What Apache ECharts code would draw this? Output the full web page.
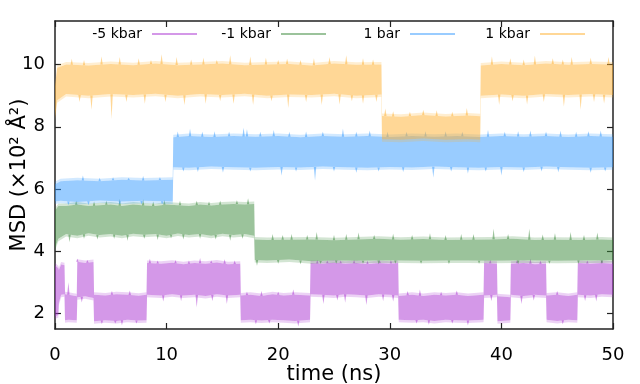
<!DOCTYPE html>
<html>
<head>
<meta charset="utf-8">
<script src="https://cdn.jsdelivr.net/npm/echarts@6/dist/echarts.min.js"></script>
<style>
html, body { margin: 0; padding: 0; background: #fff; }
#chart { width: 640px; height: 384px; }
</style>
</head>
<body>
<div id="chart"></div>
<script>
const seriesNames = ['-5 kbar', '-1 kbar', '1 bar', '1 kbar'];
const xTicks = [0, 10, 20, 30, 40, 50];
const yTicks = [2, 4, 6, 8, 10];

// dense noise of each run, read as [time, lower edge, upper edge]
const bandM5 = [
  [0, 1.9, 3.55], [0.3, 1.95, 3.45], [0.35, 2.35, 3.4], [0.55, 2.6, 3.57], [0.85, 2.62, 3.55],
  [0.9, 1.78, 2.62], [1.2, 1.8, 2.6], [1.95, 1.78, 2.55],
  [2.0, 2.52, 3.66], [2.7, 2.55, 3.62], [3.45, 2.5, 3.65],
  [3.5, 1.75, 2.6], [4.5, 1.78, 2.58], [5.5, 1.76, 2.62], [6.5, 1.8, 2.6], [7.5, 1.77, 2.57], [8.2, 1.78, 2.6],
  [8.25, 2.6, 3.62], [9.5, 2.58, 3.6], [10.5, 2.62, 3.63], [11.5, 2.58, 3.58], [12.5, 2.6, 3.62],
  [13.5, 2.56, 3.6], [14.5, 2.62, 3.64], [15.5, 2.58, 3.58], [16.6, 2.6, 3.6],
  [16.65, 1.78, 2.58], [17.5, 1.8, 2.6], [18.5, 1.77, 2.56], [19.5, 1.8, 2.62], [20.5, 1.78, 2.58],
  [21.5, 1.76, 2.6], [22.85, 1.8, 2.58],
  [22.9, 2.62, 3.62], [24, 2.6, 3.6], [25, 2.58, 3.64], [26, 2.62, 3.6], [27, 2.6, 3.62], [28, 2.58, 3.58],
  [29, 2.62, 3.62], [30, 2.6, 3.6], [30.75, 2.58, 3.62],
  [30.8, 1.8, 2.56], [32, 1.78, 2.6], [33, 1.8, 2.56], [34, 1.76, 2.6], [35, 1.8, 2.58], [36, 1.78, 2.6],
  [37, 1.77, 2.56], [38.4, 1.8, 2.6],
  [38.45, 2.58, 3.62], [39.6, 2.6, 3.6],
  [39.65, 1.75, 2.55], [40.8, 1.78, 2.52],
  [40.85, 2.6, 3.6], [42, 2.56, 3.62], [43, 2.6, 3.58], [44.0, 2.58, 3.6],
  [44.05, 1.8, 2.58], [45, 1.76, 2.6], [46, 1.8, 2.56], [46.8, 1.78, 2.6],
  [46.85, 2.6, 3.62], [48, 2.58, 3.6], [49, 2.62, 3.62], [50, 2.6, 3.6]
];
const bandM1 = [
  [0, 4.1, 5.3], [0.3, 4.4, 5.45], [1, 4.55, 5.45], [2, 4.5, 5.5], [3, 4.58, 5.45], [4, 4.52, 5.48],
  [5, 4.55, 5.5], [6, 4.5, 5.45], [7, 4.56, 5.5], [8, 4.53, 5.47], [9, 4.55, 5.45], [10, 4.5, 5.5],
  [11, 4.57, 5.48], [12, 4.52, 5.45], [13, 4.55, 5.5], [14, 4.5, 5.47], [15, 4.56, 5.5], [16, 4.52, 5.52],
  [17, 4.55, 5.5], [17.85, 4.5, 5.52],
  [17.9, 3.72, 4.38], [19, 3.7, 4.36], [21, 3.73, 4.37], [23, 3.68, 4.38], [25, 3.7, 4.35], [27, 3.69, 4.38],
  [29, 3.7, 4.4], [31, 3.7, 4.37], [33, 3.69, 4.39], [35, 3.7, 4.36], [37, 3.7, 4.37], [39, 3.69, 4.38],
  [41, 3.7, 4.4], [43, 3.7, 4.36], [45, 3.69, 4.37], [47, 3.7, 4.36], [49, 3.7, 4.38], [50, 3.72, 4.36]
];
const bandB1 = [
  [0, 5.6, 6.15], [0.5, 5.62, 6.25], [2, 5.58, 6.28], [4, 5.63, 6.25], [6, 5.6, 6.3], [8, 5.62, 6.27],
  [10.55, 5.6, 6.3],
  [10.6, 6.7, 7.66], [12, 6.68, 7.7], [14, 6.72, 7.67], [16, 6.7, 7.7], [18, 6.68, 7.68], [20, 6.71, 7.7],
  [22, 6.69, 7.66], [24, 6.72, 7.7], [26, 6.7, 7.68], [28, 6.68, 7.7], [30, 6.71, 7.67], [32, 6.69, 7.7],
  [34, 6.72, 7.68], [36, 6.7, 7.7], [38, 6.68, 7.67], [40, 6.71, 7.7], [42, 6.69, 7.68], [44, 6.72, 7.7],
  [46, 6.7, 7.67], [48, 6.68, 7.7], [50, 6.7, 7.68]
];
const bandK1 = [
  [0, 8.3, 9.3], [0.2, 8.85, 9.9], [1, 9.05, 10.0], [3, 9.0, 9.97], [5, 9.05, 10.02], [7, 9.02, 9.98],
  [9, 9.06, 10.03], [11, 9.0, 9.98], [13, 9.05, 10.0], [15, 9.02, 10.03], [17, 9.06, 9.98], [19, 9.0, 10.0],
  [21, 9.04, 10.02], [23, 9.02, 9.97], [25, 9.06, 10.03], [27, 9.0, 9.99], [29.25, 9.04, 10.0],
  [29.3, 7.6, 8.35], [31, 7.58, 8.32], [33, 7.62, 8.38], [35, 7.58, 8.33], [37, 7.6, 8.36], [38.1, 7.58, 8.34],
  [38.15, 9.0, 9.97], [40, 9.04, 10.02], [42, 9.0, 9.98], [44, 9.05, 10.03], [46, 9.02, 9.99],
  [48, 9.05, 10.02], [50, 9.02, 10.0]
];

// single excursions beyond the dense band, read as [time, tip]
const upM5 = [[1.2, 3.0], [2.0, 3.76], [2.9, 3.72], [5.1, 2.72], [6.7, 2.74], [8.5, 3.76], [9.2, 3.7],
  [10.8, 3.72], [12.0, 3.7], [13.0, 3.78], [14.0, 3.7], [15.2, 3.74], [16.1, 3.7], [17.2, 2.7],
  [18.5, 2.72], [20.0, 2.7], [21.35, 2.77], [23.5, 3.72], [24.4, 3.7], [25.6, 3.7], [26.8, 3.72],
  [28.0, 3.7], [29.1, 3.7], [30.1, 3.72], [31.6, 2.72], [32.7, 2.77], [34.6, 2.7], [36.0, 2.74],
  [39.0, 3.72], [41.4, 3.72], [42.6, 3.76], [43.5, 3.7], [45.0, 2.72], [47.7, 3.7], [49.0, 3.72]];
const downM5 = [[2.4, 2.35], [4.2, 1.66], [5.4, 1.68], [6.0, 1.62], [7.3, 1.68], [9.7, 2.38], [11.3, 2.4],
  [12.7, 2.2], [14.1, 2.4], [15.4, 2.3], [18.0, 1.65], [19.2, 1.68], [21.8, 1.58], [24.05, 2.3],
  [25.3, 2.42], [26.0, 2.35], [27.9, 2.27], [29.4, 2.4], [30.3, 2.38], [32.4, 1.68], [33.5, 1.64],
  [35.6, 1.68], [37.0, 1.62], [39.1, 2.4], [41.8, 2.3], [42.9, 2.42], [45.5, 1.65], [47.5, 2.4], [48.5, 2.38]];
const upM1 = [[1.9, 5.62], [3.5, 5.6], [4.6, 5.62], [5.8, 5.69], [7.9, 5.67], [8.8, 5.6], [9.8, 5.65],
  [11.2, 5.62], [12.7, 5.62], [13.8, 5.6], [14.8, 5.62], [16.3, 5.64], [17.3, 5.7], [19.5, 4.55],
  [20.4, 4.52], [21.2, 4.55], [22.6, 4.52], [23.45, 4.62], [25.0, 4.52], [26.1, 4.55], [27.2, 4.6],
  [28.6, 4.52], [30.3, 4.56], [32.0, 4.52], [33.6, 4.58], [35.0, 4.52], [36.4, 4.55], [37.5, 4.55],
  [39.3, 4.72], [40.6, 4.55], [42.5, 4.72], [43.7, 4.54], [44.8, 4.58], [46.2, 4.62], [47.4, 4.52], [48.6, 4.6]];
const downM1 = [[1.3, 4.29], [2.6, 4.4], [3.8, 4.38], [5.3, 4.4], [6.5, 4.34], [8.0, 4.4], [9.2, 4.36],
  [10.4, 4.42], [11.5, 4.38], [13.0, 4.4], [14.4, 4.38], [15.7, 4.34], [16.8, 4.4], [18.1, 3.53],
  [20.0, 3.6], [22.0, 3.58], [23.8, 3.6], [25.2, 3.6], [27.6, 3.6], [29.0, 3.58], [30.5, 3.6],
  [32.8, 3.6], [35.3, 3.58], [38.0, 3.6], [41.5, 3.58], [44.3, 3.6], [46.9, 3.6], [49.0, 3.6]];
const upB1 = [[2.5, 6.43], [4.0, 6.36], [5.2, 6.38], [6.6, 6.36], [7.9, 6.42], [9.4, 6.38], [11.0, 7.85],
  [12.1, 7.94], [13.2, 7.84], [14.3, 7.86], [15.6, 7.84], [16.9, 7.97], [17.2, 7.92], [18.4, 7.84],
  [19.6, 7.9], [21.0, 7.84], [22.5, 7.85], [24.0, 7.84], [25.8, 7.94], [27.0, 7.84], [28.2, 7.88],
  [29.8, 7.84], [31.5, 7.84], [33.2, 7.86], [35.0, 7.86], [36.5, 7.84], [38.8, 7.9], [40.3, 7.84],
  [41.5, 7.86], [42.6, 7.88], [44.0, 7.84], [45.3, 7.87], [46.7, 7.84], [47.8, 7.86], [48.9, 7.88]];
const downB1 = [[1.2, 5.48], [3.0, 5.48], [5.8, 5.5], [7.75, 5.5], [9.6, 5.5], [11.5, 6.56], [12.8, 6.55],
  [15.05, 6.53], [17.5, 6.56], [20.3, 6.43], [21.6, 6.56], [23.3, 6.27], [25.0, 6.56], [27.0, 6.52],
  [29.0, 6.56], [31.2, 6.55], [33.9, 6.37], [35.5, 6.56], [37.0, 6.5], [38.6, 6.56], [40.0, 6.43],
  [42.0, 6.55], [43.6, 6.56], [45.1, 6.54], [48.0, 6.52], [49.3, 6.56]];
const upK1 = [[1.5, 10.19], [2.6, 10.15], [4.17, 10.26], [5.8, 10.24], [7.5, 10.2], [8.6, 10.15],
  [9.55, 10.33], [10.9, 10.24], [12.2, 10.16], [13.3, 10.22], [14.5, 10.15], [15.7, 10.3], [17.5, 10.26],
  [18.9, 10.22], [20.0, 10.15], [20.8, 10.19], [22.0, 10.15], [23.2, 10.2], [24.6, 10.24], [26.1, 10.3],
  [27.6, 10.2], [28.5, 10.16], [29.6, 8.59], [30.3, 8.5], [31.8, 8.48], [33, 8.55], [34.2, 8.53],
  [35.6, 8.48], [36.9, 8.6], [39.15, 10.26], [40.8, 10.2], [42.0, 10.16], [43.0, 10.28], [44.6, 10.2],
  [45.5, 10.16], [46.3, 10.24], [48.0, 10.22], [49.6, 10.24]];
const downK1 = [[2.2, 8.8], [3.27, 8.55], [5.07, 8.26], [6.4, 8.8], [8.05, 8.74], [9.9, 8.8], [11.6, 8.7],
  [13.5, 8.75], [14.8, 8.82], [16, 8.74], [17.75, 8.7], [19.4, 8.82], [20.9, 8.6], [22.5, 8.8], [23.9, 8.7],
  [25.5, 8.72], [26.6, 8.82], [27.6, 8.74], [28.8, 8.8], [39.8, 8.7], [41.0, 8.82], [42.3, 8.72],
  [43.8, 8.8], [45.6, 8.65], [47.1, 8.55], [48.3, 8.8], [49.2, 8.75]];

const bands = [bandM5, bandM1, bandB1, bandK1];
const ups = [upM5, upM1, upB1, upK1];
const downs = [downM5, downM1, downB1, downK1];
const rgb = ['170,50,210', '55,135,55', '51,153,255', '255,176,45'];
const colors = rgb.map(c => 'rgba(' + c + ',0.5)');
const fringe = rgb.map(c => 'rgba(' + c + ',0.22)');
const legendRight = [443, 314, 185, 55];
const font = 'DejaVu Sans';

// edge of the band under a spike, so the spike starts where the band ends
function edgeAt(band, t, k) {
  for (let i = 1; i < band.length; i++) {
    if (band[i][0] >= t) {
      const a = band[i - 1], b = band[i];
      const f = (t - a[0]) / (b[0] - a[0] || 1);
      return a[k] + (b[k] - a[k]) * f;
    }
  }
  return band[band.length - 1][k];
}

function bandSeries(i) {
  const band = bands[i];
  return {
    name: seriesNames[i],
    type: 'custom',
    silent: true,
    itemStyle: { color: colors[i] },
    data: band,
    encode: { x: 0, y: [1, 2] },
    renderItem(params, api) {
      if (params.dataIndex !== 0) return null;
      const top = band.map(p => api.coord([p[0], p[2]]));
      const bottom = band.map(p => api.coord([p[0], p[1]]));
      const topOut = top.map(p => [p[0], p[1] - 2.5]).reverse();
      const bottomOut = bottom.map(p => [p[0], p[1] + 2.5]).reverse();
      return {
        type: 'group',
        children: [
          { type: 'polygon', shape: { points: top.concat(bottom.slice().reverse()) }, style: { fill: colors[i] } },
          { type: 'polygon', shape: { points: top.concat(topOut) }, style: { fill: fringe[i] } },
          { type: 'polygon', shape: { points: bottom.concat(bottomOut) }, style: { fill: fringe[i] } }
        ]
      };
    }
  };
}

function spikeSeries(i) {
  const band = bands[i];
  const data = ups[i].map(s => [s[0], edgeAt(band, s[0], 2), s[1]])
    .concat(downs[i].map(s => [s[0], edgeAt(band, s[0], 1), s[1]]));
  return {
    name: seriesNames[i],
    type: 'custom',
    silent: true,
    itemStyle: { color: colors[i] },
    data: data,
    encode: { x: 0, y: [1, 2] },
    renderItem(params, api) {
      const a = api.coord([api.value(0), api.value(1)]);
      const b = api.coord([api.value(0), api.value(2)]);
      return {
        type: 'polygon',
        shape: { points: [[a[0] - 1.2, a[1]], [b[0], b[1]], [a[0] + 1.2, a[1]]] },
        style: { fill: colors[i] }
      };
    }
  };
}

const series = [];
for (let i = 0; i < 4; i++) {
  series.push(bandSeries(i));
  series.push(spikeSeries(i));
}

const axisLine = { onZero: false, lineStyle: { color: '#222', width: 1.5 } };
const tick = { inside: true, length: 6, lineStyle: { color: '#222', width: 1.2 } };

const chart = echarts.init(document.getElementById('chart'));
chart.setOption({
  animation: false,
  grid: { left: 55, right: 27, top: 21, bottom: 55, outerBoundsMode: 'none' },
  legend: seriesNames.map((n, i) => ({
    data: [{ name: n, itemStyle: { color: colors[i] } }],
    right: legendRight[i],
    top: 27,
    padding: 0,
    align: 'right',
    icon: 'rect',
    itemWidth: 45,
    itemHeight: 2,
    selectedMode: false,
    textStyle: { fontSize: 14, fontFamily: font, color: '#000', padding: [0, 5, 0, 0] }
  })),
  xAxis: [{
    type: 'value', min: 0, max: 50, position: 'bottom',
    name: 'time (ns)', nameLocation: 'middle', nameGap: 35, nameMoveOverlap: false,
    nameTextStyle: { fontSize: 21, color: '#000', fontFamily: font },
    axisLine: axisLine,
    axisTick: Object.assign({ customValues: xTicks }, tick),
    axisLabel: { customValues: xTicks, fontSize: 18, color: '#000', margin: 17, fontFamily: font },
    splitLine: { show: false }
  }, {
    type: 'value', min: 0, max: 50, position: 'top',
    axisLine: axisLine,
    axisTick: Object.assign({ customValues: xTicks }, tick),
    axisLabel: { show: false },
    splitLine: { show: false }
  }],
  yAxis: [{
    type: 'value', min: 1.5, max: 11.4, position: 'left',
    name: 'MSD (×10² Å²)', nameLocation: 'middle', nameGap: 25, nameMoveOverlap: false,
    nameTextStyle: { fontSize: 21, color: '#000', fontFamily: font },
    axisLine: axisLine,
    axisTick: Object.assign({ customValues: yTicks }, tick),
    axisLabel: { customValues: yTicks, fontSize: 18, color: '#000', margin: 10, fontFamily: font },
    splitLine: { show: false }
  }, {
    type: 'value', min: 1.5, max: 11.4, position: 'right',
    axisLine: axisLine,
    axisTick: Object.assign({ customValues: yTicks }, tick),
    axisLabel: { show: false },
    splitLine: { show: false }
  }],
  series: series
});
</script>
</body>
</html>
